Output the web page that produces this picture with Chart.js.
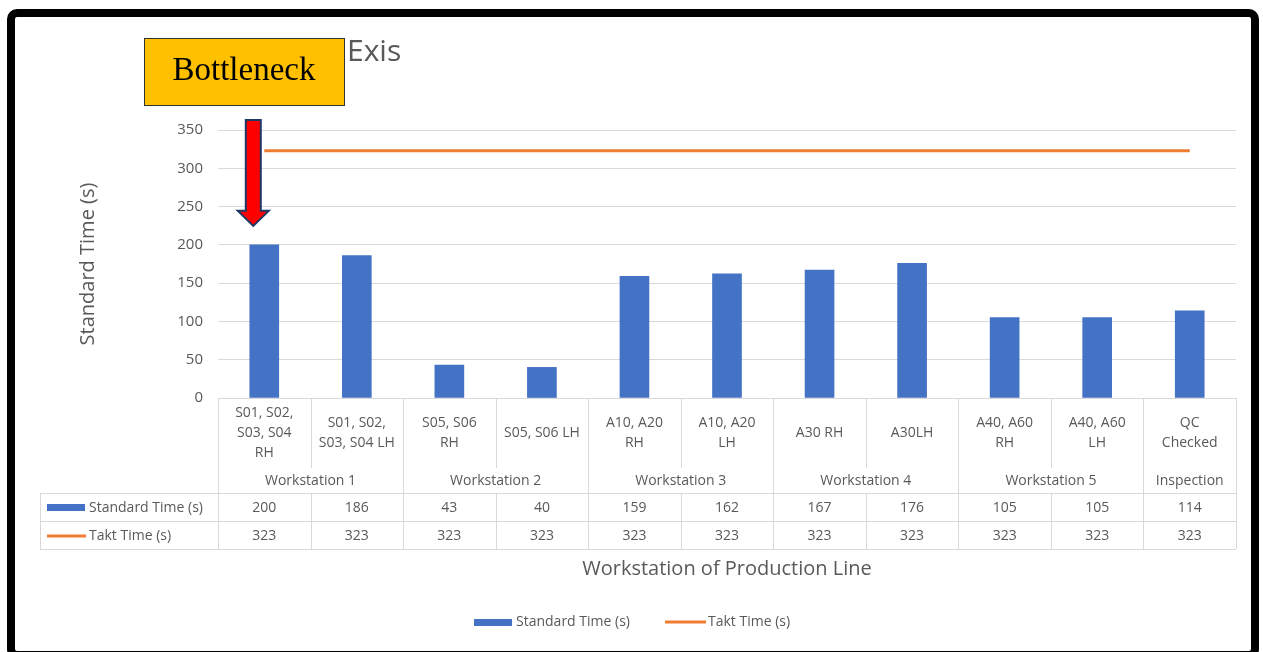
<!DOCTYPE html>
<html lang="en">
<head>
    <meta charset="UTF-8">
    <title>Standard Time vs Takt Time</title>
    <style>
        body {
            margin: 0;
            background: #ffffff;
        }
        #chart {
            display: block;
        }
    </style>
</head>
<body>
    <canvas id="chart" width="1263" height="652"></canvas>

    <script src="https://cdn.jsdelivr.net/npm/chart.js@4.4.1/dist/chart.umd.min.js"></script>
    <script>
        // Chart data
        var categories = [
            ['S01, S02,', 'S03, S04', 'RH'],
            ['S01, S02,', 'S03, S04 LH'],
            ['S05, S06', 'RH'],
            ['S05, S06 LH'],
            ['A10, A20', 'RH'],
            ['A10, A20', 'LH'],
            ['A30 RH'],
            ['A30LH'],
            ['A40, A60', 'RH'],
            ['A40, A60', 'LH'],
            ['QC', 'Checked']
        ];
        var groupNames = ['Workstation 1', 'Workstation 2', 'Workstation 3', 'Workstation 4', 'Workstation 5', 'Inspection'];
        var groupSpans = [2, 2, 2, 2, 2, 1];
        var standardTime = [200, 186, 43, 40, 159, 162, 167, 176, 105, 105, 114];
        var taktTime = [323, 323, 323, 323, 323, 323, 323, 323, 323, 323, 323];
        var yTicks = [0, 50, 100, 150, 200, 250, 300, 350];

        var BLUE = '#4472C4';
        var ORANGE = '#ED7D31';
        var TEXT = '#595959';
        var GRID = '#d9d9d9';
        var FONT = '"Open Sans", Lato, sans-serif';

        Chart.defaults.color = TEXT;
        Chart.defaults.font.family = FONT;

        // Draws the data table, legend, titles, frame and the bottleneck callout
        var tablePlugin = {
            id: 'tablePlugin',
            beforeDraw: function (chart) {
                var ctx = chart.ctx;
                ctx.save();
                ctx.fillStyle = '#ffffff';
                ctx.fillRect(0, 0, chart.width, chart.height);
                ctx.restore();
            },
            afterDraw: function (chart) {
                var ctx = chart.ctx;
                var xs = chart.scales.x;
                var ys = chart.scales.y;
                var step = xs.getPixelForValue(1) - xs.getPixelForValue(0);
                var half = step / 2;
                var top = ys.getPixelForValue(0);
                var catBottom = top + 70;
                var grpBottom = top + 95;
                var row1 = grpBottom + 28;
                var row2 = row1 + 28;
                var tableLeft = 40;
                var left = xs.getPixelForValue(0) - half;
                var right = xs.getPixelForValue(categories.length - 1) + half;

                ctx.save();
                ctx.strokeStyle = GRID;
                ctx.lineWidth = 1;

                function hline(y, x1, x2) {
                    ctx.beginPath();
                    ctx.moveTo(x1, y + 0.5);
                    ctx.lineTo(x2, y + 0.5);
                    ctx.stroke();
                }
                function vline(x, y1, y2) {
                    ctx.beginPath();
                    ctx.moveTo(Math.round(x) + 0.5, y1);
                    ctx.lineTo(Math.round(x) + 0.5, y2);
                    ctx.stroke();
                }

                hline(top, left, right);
                hline(grpBottom, tableLeft, right);
                hline(row1, tableLeft, right);
                hline(row2, tableLeft, right);
                vline(tableLeft, grpBottom, row2);

                // group boundaries
                var groupEdges = [0];
                var acc = 0;
                groupSpans.forEach(function (s) { acc += s; groupEdges.push(acc); });
                for (var i = 0; i <= categories.length; i++) {
                    var bx = xs.getPixelForValue(0) - half + i * step;
                    if (groupEdges.indexOf(i) >= 0) {
                        vline(bx, top, row2);
                    } else {
                        vline(bx, top, catBottom);
                        vline(bx, grpBottom, row2);
                    }
                }

                ctx.fillStyle = TEXT;
                ctx.textAlign = 'center';
                ctx.textBaseline = 'middle';
                ctx.font = '14px ' + FONT;

                // category labels and values
                categories.forEach(function (lines, i) {
                    var cx = xs.getPixelForValue(i);
                    var mid = (top + catBottom) / 2;
                    var lh = 20;
                    var y0 = mid - (lines.length - 1) * lh / 2;
                    lines.forEach(function (t, j) {
                        ctx.fillText(t, cx, y0 + j * lh);
                    });
                    ctx.fillText(String(standardTime[i]), cx, (grpBottom + row1) / 2 + 1);
                    ctx.fillText(String(taktTime[i]), cx, (row1 + row2) / 2 + 1);
                });

                // group labels
                var start = 0;
                groupNames.forEach(function (name, g) {
                    var end = start + groupSpans[g] - 1;
                    var gx = (xs.getPixelForValue(start) + xs.getPixelForValue(end)) / 2;
                    ctx.fillText(name, gx, (catBottom + grpBottom) / 2 + 1);
                    start += groupSpans[g];
                });

                // table legend column
                ctx.textAlign = 'left';
                ctx.fillStyle = BLUE;
                ctx.fillRect(47, (grpBottom + row1) / 2 - 3, 38, 7);
                ctx.strokeStyle = ORANGE;
                ctx.lineWidth = 3;
                ctx.beginPath();
                ctx.moveTo(47, (row1 + row2) / 2 + 1);
                ctx.lineTo(86, (row1 + row2) / 2 + 1);
                ctx.stroke();
                ctx.fillStyle = TEXT;
                ctx.fillText('Standard Time (s)', 89, (grpBottom + row1) / 2 + 1);
                ctx.fillText('Takt Time (s)', 89, (row1 + row2) / 2 + 1);

                // x axis title
                ctx.textAlign = 'center';
                ctx.font = '20px ' + FONT;
                ctx.fillText('Workstation of Production Line', (left + right) / 2, 569);

                // bottom legend
                ctx.font = '14px ' + FONT;
                ctx.textAlign = 'left';
                ctx.fillStyle = BLUE;
                ctx.fillRect(474, 619, 38, 7);
                ctx.fillStyle = TEXT;
                ctx.fillText('Standard Time (s)', 516, 622);
                ctx.strokeStyle = ORANGE;
                ctx.lineWidth = 3;
                ctx.beginPath();
                ctx.moveTo(665, 622);
                ctx.lineTo(706, 622);
                ctx.stroke();
                ctx.fillText('Takt Time (s)', 708, 622);

                // chart title (partly visible)
                ctx.font = '30px ' + FONT;
                ctx.fillText('Exis', 347, 52);

                // bottleneck box
                ctx.fillStyle = '#FFC000';
                ctx.fillRect(144, 38, 200, 67);
                ctx.strokeStyle = '#333333';
                ctx.lineWidth = 1;
                ctx.strokeRect(144.5, 38.5, 200, 67);
                ctx.fillStyle = '#000000';
                ctx.textAlign = 'center';
                ctx.font = '33px "Liberation Serif", "DejaVu Serif", serif';
                ctx.fillText('Bottleneck', 244, 71);

                // red arrow pointing at first bar
                var ax = xs.getPixelForValue(0) - 11;
                var tip = ys.getPixelForValue(standardTime[0]) - 19;
                var headBase = tip - 15;
                var shaftTop = ys.top - 10;
                ctx.beginPath();
                ctx.moveTo(ax - 7.5, shaftTop);
                ctx.lineTo(ax + 7.5, shaftTop);
                ctx.lineTo(ax + 7.5, headBase);
                ctx.lineTo(ax + 15.5, headBase);
                ctx.lineTo(ax, tip);
                ctx.lineTo(ax - 15.5, headBase);
                ctx.lineTo(ax - 7.5, headBase);
                ctx.closePath();
                ctx.fillStyle = '#FF0000';
                ctx.fill();
                ctx.strokeStyle = '#1F3864';
                ctx.lineWidth = 2;
                ctx.stroke();

                // outer frame
                ctx.strokeStyle = '#000000';
                ctx.lineWidth = 8;
                ctx.beginPath();
                ctx.roundRect(11, 13, 1244, 642, 6);
                ctx.stroke();

                ctx.restore();
            }
        };

        var ctx = document.getElementById('chart').getContext('2d');
        var chart = new Chart(ctx, {
            type: 'bar',
            data: {
                labels: categories,
                datasets: [{
                    type: 'line',
                    label: 'Takt Time (s)',
                    data: taktTime,
                    borderColor: ORANGE,
                    borderWidth: 3,
                    pointRadius: 0,
                    fill: false,
                    order: 0
                }, {
                    label: 'Standard Time (s)',
                    data: standardTime,
                    backgroundColor: BLUE,
                    barThickness: 29,
                    order: 1
                }]
            },
            options: {
                responsive: false,
                animation: false,
                layout: {
                    padding: { left: 72, top: 130, right: 27, bottom: 254 }
                },
                plugins: {
                    legend: { display: false },
                    tooltip: { enabled: false }
                },
                scales: {
                    x: {
                        display: false
                    },
                    y: {
                        min: yTicks[0],
                        max: yTicks[yTicks.length - 1],
                        afterFit: function (scale) { scale.width = 146; },
                        afterBuildTicks: function (scale) {
                            scale.ticks = yTicks.map(function (v) { return { value: v }; });
                        },
                        ticks: {
                            padding: 15,
                            font: { size: 15 },
                            color: TEXT
                        },
                        grid: {
                            color: GRID,
                            drawTicks: false
                        },
                        border: { display: false },
                        title: {
                            display: true,
                            text: 'Standard Time (s)',
                            font: { size: 20 },
                            color: TEXT
                        }
                    }
                }
            },
            plugins: [tablePlugin]
        });
    </script>
</body>
</html>
